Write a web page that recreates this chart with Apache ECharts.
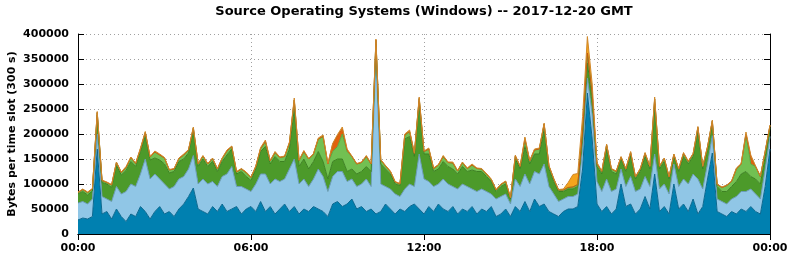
<!DOCTYPE html>
<html><head><meta charset="utf-8">
<script src="https://cdn.jsdelivr.net/npm/echarts@6/dist/echarts.min.js"></script>
<style>html,body{margin:0;padding:0;background:#fff}#c{width:792px;height:259px}</style>
</head><body><div id="c"></div>
<script>
// values in thousands of bytes per 5-min slot, sampled every 10 minutes (00:00 .. 24:00)
const UNIT = 1000;
const darkBlue = [
28,32,30,35,170,40,45,30,50,35,
25,40,35,55,45,30,45,55,40,45,
35,50,60,75,92,50,45,40,55,45,
60,45,50,55,40,50,55,45,65,45,
55,40,50,60,45,55,40,50,45,55,
50,45,35,60,65,55,60,70,50,55,
45,50,40,45,60,50,40,50,45,55,
60,50,40,55,45,60,50,45,55,40,
50,45,55,40,50,45,55,35,40,50,
35,55,45,65,45,70,55,60,45,40,
35,45,50,50,55,130,282,190,60,45,
55,40,50,100,55,60,40,50,75,50,
120,45,55,40,100,50,60,45,70,40,
55,110,162,45,40,35,45,40,50,45,
55,45,40,95,170];
const lightBlue = [
34,33,30,35,30,35,25,35,45,45,
60,60,60,65,105,80,75,55,60,45,
60,60,55,55,65,50,65,60,50,50,
55,75,85,40,55,40,30,55,55,75,
45,70,55,50,85,95,60,60,50,55,
80,70,50,55,60,70,45,40,45,45,
65,45,320,55,35,40,40,25,45,45,
35,110,70,50,50,40,60,55,40,50,
50,50,35,45,40,40,25,35,35,30,
25,55,50,55,55,55,65,80,50,40,
30,25,25,25,25,40,30,50,45,40,
55,45,40,30,40,55,45,40,40,45,
40,45,45,40,40,45,50,55,50,70,
35,30,35,25,25,25,25,35,35,40,
35,35,30,35,25];
const darkGreen = [
18,20,18,16,38,28,30,28,42,38,
42,45,40,45,45,38,32,38,40,32,
30,35,35,32,50,35,40,35,40,30,
30,38,35,25,30,25,22,30,45,55,
40,45,40,35,40,100,35,40,35,35,
35,30,25,30,25,25,20,20,25,25,
25,30,20,40,35,30,20,22,100,95,
60,105,50,55,30,30,35,35,35,30,
35,30,38,40,35,30,25,15,20,20,
10,40,35,55,40,35,40,70,35,25,
20,15,15,15,15,25,30,30,30,35,
60,40,30,20,30,42,25,35,40,35,
100,40,45,30,15,30,45,40,35,95,
40,30,25,25,20,25,25,30,35,40,
25,30,30,25,17];
const lightGreen = [
3,4,5,4,5,4,3,5,6,5,
6,8,6,5,8,6,12,10,12,6,
5,6,8,6,5,5,6,5,6,5,
6,8,5,4,5,8,6,5,6,10,
6,8,8,10,12,18,12,15,20,15,
25,50,30,20,25,50,40,25,20,18,
20,15,8,8,6,5,4,3,8,10,
6,6,5,10,6,8,10,8,12,6,
8,6,10,6,5,5,4,3,4,5,
2,6,5,12,6,8,10,10,6,5,
3,3,3,4,4,10,20,10,5,5,
8,5,5,4,5,6,4,5,6,5,
10,5,6,4,4,5,6,5,5,8,
5,4,4,4,8,12,10,25,20,75,
25,25,15,10,5];
const redOrange = [
0,0,0,0,0,0,0,0,0,0,
0,0,0,0,0,0,0,0,0,0,
0,0,0,0,0,0,0,0,0,0,
0,0,0,0,0,0,0,0,0,0,
0,0,0,0,0,0,0,0,0,0,
0,0,0,15,22,10,3,0,0,0,
0,0,0,0,0,0,0,0,0,0,
0,0,0,0,0,0,0,0,0,0,
0,0,0,0,0,0,0,0,0,0,
0,0,0,4,0,0,0,0,0,0,
0,0,0,0,0,0,0,0,0,0,
0,0,0,0,0,0,0,0,0,0,
0,0,0,0,0,0,0,0,0,0,
0,0,0,0,0,0,0,0,0,0,
15,0,0,0,0];
const orange = [
1,1,1,1,2,1,1,1,1,1,
2,1,1,2,2,1,2,2,1,1,
1,1,2,1,2,1,1,1,1,1,
1,2,1,1,1,1,1,1,2,3,
1,2,1,1,2,4,1,2,1,1,
2,3,1,1,2,4,2,1,1,1,
2,1,2,1,1,1,1,1,2,3,
1,3,1,2,1,1,2,1,2,1,
1,1,2,1,1,1,1,1,1,1,
1,2,1,3,1,2,2,2,1,1,
1,2,10,25,22,30,33,20,3,1,
2,1,1,1,1,2,1,1,2,1,
4,1,1,1,1,1,2,1,1,2,
1,1,2,1,1,1,1,2,1,4,
3,1,1,1,1];
const slotLabels = darkBlue.map((_, i) => {
  const m = (i * 10) % 1440;
  return String(Math.floor(m / 60)).padStart(2, '0') + ':' + String(m % 60).padStart(2, '0');
});
const xTickEvery = 36; // 6 hours in 10-minute slots
const titleText = 'Source Operating Systems (Windows) -- 2017-12-20 GMT';
const yAxisName = 'Bytes per time slot (300 s)';

const layers = [
  { name: 'os1', data: darkBlue,   fill: '#0080b0', line: '#0a6890' },
  { name: 'os2', data: lightBlue,  fill: '#90c6e6', line: '#6a9cb8' },
  { name: 'os3', data: darkGreen,  fill: '#4c9a2a', line: '#3d8222' },
  { name: 'os4', data: lightGreen, fill: '#72c052', line: '#5aa83e' },
  { name: 'os5', data: redOrange,  fill: '#e0620e', line: '#c85a10' },
  { name: 'os6', data: orange,     fill: '#f4a41c', line: '#d0882a' }
];

const font = 'DejaVu Sans';
const chart = echarts.init(document.getElementById('c'), null, { renderer: 'canvas' });
const tickInt = xTickEvery - 1;
const lineCol = { color: '#000', width: 1 };
chart.setOption({
  animation: false,
  backgroundColor: '#fff',
  graphic: [{
    type: 'text', x: 424, y: 5,
    style: { text: titleText, font: 'bold 13px "DejaVu Sans"', fill: '#000', textAlign: 'center', textVerticalAlign: 'top' }
  }],
  grid: { left: 78, right: 22, top: 34, bottom: 25, containLabel: false, outerBoundsMode: 'none' },
  xAxis: [{
    type: 'category', data: slotLabels, boundaryGap: false, position: 'bottom',
    axisLine: { show: true, lineStyle: lineCol },
    axisTick: { show: true, inside: true, length: 6, interval: tickInt, lineStyle: lineCol },
    axisLabel: { interval: tickInt, margin: 9, color: '#000', fontFamily: font, fontWeight: 'bold', fontSize: 11 },
    splitLine: { show: true, interval: tickInt, lineStyle: { color: '#a0a0a0', type: [1, 3], width: 1 } }
  }, {
    type: 'category', data: slotLabels, boundaryGap: false, position: 'top',
    axisLine: { show: true, lineStyle: lineCol },
    axisTick: { show: true, inside: true, length: 6, interval: tickInt, lineStyle: lineCol },
    axisLabel: { show: false }, splitLine: { show: false }
  }],
  yAxis: [{
    type: 'value', min: 0, max: 400000, interval: 50000, position: 'left',
    axisLine: { show: true, lineStyle: lineCol },
    axisTick: { show: true, inside: true, length: 6, lineStyle: lineCol },
    axisLabel: { margin: 9, color: '#000', fontFamily: font, fontWeight: 'bold', fontSize: 11, formatter: v => String(v) },
    splitLine: { show: true, lineStyle: { color: '#a0a0a0', type: [1, 3], width: 1 } },
    name: yAxisName, nameLocation: 'middle', nameGap: 60, nameMoveOverlap: false,
    nameTextStyle: { color: '#000', fontFamily: font, fontWeight: 'bold', fontSize: 11 }
  }, {
    type: 'value', min: 0, max: 400000, interval: 50000, position: 'right',
    axisLine: { show: true, lineStyle: lineCol },
    axisTick: { show: true, inside: true, length: 6, lineStyle: lineCol },
    axisLabel: { show: false }, splitLine: { show: false }
  }],
  series: layers.map(l => ({
    name: l.name, type: 'line', stack: 'total',
    xAxisIndex: 0, yAxisIndex: 0,
    data: l.data.map(v => v * UNIT),
    symbol: 'none', showSymbol: false,
    lineStyle: { width: 1, color: l.line },
    itemStyle: { color: l.fill },
    areaStyle: { color: l.fill, opacity: 1 }
  }))
});
</script></body></html>
